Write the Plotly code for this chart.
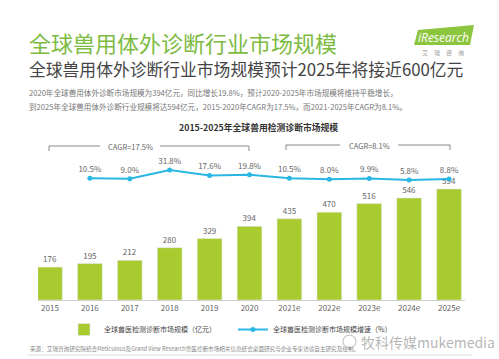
import plotly.graph_objects as go

years = ["2015", "2016", "2017", "2018", "2019", "2020", "2021e", "2022e", "2023e", "2024e", "2025e"]
market_size = [176, 195, 212, 280, 329, 394, 435, 470, 516, 546, 594]
growth_rate = [10.5, 9.0, 31.8, 17.6, 19.8, 10.5, 8.0, 9.9, 5.8, 8.8]
growth_years = years[1:]
bar_name = "全球兽医检测诊断市场规模（亿元）"
line_name = "全球兽医检测诊断市场规模增速（%）"

W, H = 499, 359
FONT = "Noto Sans CJK SC"
GREEN = "#a9cb2f"
BLUE = "#2ab7e3"
GRAY = "#666666"

def px(x):
    return x / W

def py(y):
    return 1 - y / H

fig = go.Figure()
fig.add_trace(go.Bar(
    x=years, y=market_size, name=bar_name, marker_color=GREEN, width=0.62,
    text=[str(v) for v in market_size], textposition="outside",
    textfont=dict(size=8, color=GRAY), cliponaxis=False,
))
fig.add_trace(go.Scatter(
    x=growth_years, y=growth_rate, name=line_name, yaxis="y2", mode="lines+markers+text",
    line=dict(color=BLUE, width=2), marker=dict(color=BLUE, size=5),
    text=[f"{v:.1f}%" for v in growth_rate], textposition="top center",
    textfont=dict(size=8, color=GRAY), cliponaxis=False,
))

fig.update_layout(
    width=W, height=H, margin=dict(l=0, r=0, t=0, b=0),
    paper_bgcolor="white", plot_bgcolor="white",
    font=dict(family=FONT, color=GRAY),
    xaxis=dict(domain=[px(38), px(465)], range=[-0.3, 10.4], showgrid=False,
               showline=True, linecolor="#d0d0d0", linewidth=1, ticks="",
               tickfont=dict(size=8, color=GRAY), anchor="y"),
    yaxis=dict(domain=[py(300), py(140)], range=[0, 856], visible=False),
    yaxis2=dict(domain=[py(300), py(140)], range=[-306, 110], overlaying="y", visible=False),
    showlegend=True,
    legend=dict(orientation="h", x=px(64), xanchor="left", y=py(315), yanchor="top",
                font=dict(size=7, color="#444444"), itemwidth=30, traceorder="normal",
                entrywidth=124, entrywidthmode="pixels",
                bgcolor="rgba(0,0,0,0)"),
)

shapes = []
def bracket(x0, x1, y, gap0, gap1):
    c = dict(color="#888", width=1)
    return [
        dict(type="line", xref="paper", yref="paper", x0=px(x0), x1=px(x0), y0=py(y), y1=py(y + 5), line=c),
        dict(type="line", xref="paper", yref="paper", x0=px(x1), x1=px(x1), y0=py(y), y1=py(y + 5), line=c),
        dict(type="line", xref="paper", yref="paper", x0=px(x0), x1=px(gap0), y0=py(y), y1=py(y), line=c),
        dict(type="line", xref="paper", yref="paper", x0=px(gap1), x1=px(x1), y0=py(y), y1=py(y), line=c),
    ]

shapes += bracket(49, 249, 146, 100, 160)
shapes += bracket(286, 450, 145, 340, 398)
# logo parallelogram
shapes.append(dict(type="path", xref="paper", yref="paper",
                   path=f"M {px(414)} {py(45)} L {px(470)} {py(45)} L {px(474)} {py(25)} L {px(418)} {py(30)} Z",
                   fillcolor="#8cc63e", line=dict(width=0)))
# watermark icon
shapes.append(dict(type="circle", xref="paper", yref="paper", x0=px(343), x1=px(356), y0=py(348), y1=py(335),
                   line=dict(color="rgba(170,170,170,0.8)", width=1)))
# footer line
shapes.append(dict(type="line", xref="paper", yref="paper", x0=px(28), x1=px(472), y0=py(355), y1=py(355),
                   line=dict(color="#dddddd", width=1)))
fig.update_layout(shapes=shapes)

ann = []
def text(x, y, s, size, color, anchor="left", bold=False, family=FONT):
    ann.append(dict(xref="paper", yref="paper", x=px(x), y=py(y), text=(f"<b>{s}</b>" if bold else s),
                    showarrow=False, xanchor=anchor, yanchor="middle",
                    font=dict(size=size, color=color, family=family)))

text(27, 42, "全球兽用体外诊断行业市场规模", 22, "#7dbb42")
text(27, 69, "全球兽用体外诊断行业市场规模预计2025年将接近600亿元", 16.8, "#444444")
text(27, 92, "2020年全球兽用体外诊断市场规模为394亿元，同比增长19.8%，预计2020-2025年市场规模将维持平稳增长，", 7.6, "#777777")
text(27, 106, "到2025年全球兽用体外诊断行业规模将达594亿元，2015-2020年CAGR为17.5%，而2021-2025年CAGR为8.1%。", 7.6, "#777777")
text(258, 128, "2015-2025年全球兽用检测诊断市场规模", 8.8, "#333333", anchor="center", bold=True)
text(130, 146, "CAGR=17.5%", 7.5, GRAY, anchor="center")
text(369, 145, "CAGR=8.1%", 7.5, GRAY, anchor="center")
text(443, 37, "<i>iResearch</i>", 12, "white", anchor="center", family="Open Sans")
text(443, 52, "艾　瑞　咨　询", 6, "#999999", anchor="center")
text(28, 349, "来源：艾瑞咨询研究院结合Meticulous及Grand View Research兽医诊断市场相关信息结合桌面研究与企业专家访谈自主研究及绘制。", 5.6, "#888888")
text(497, 342, "牧科传媒mukemedia", 14, "rgba(150,150,150,0.7)", anchor="right")
fig.update_layout(annotations=ann)

fig.write_html("out.html", config={"displayModeBar": False},
               post_script="document.body.style.margin='0';document.body.style.padding='0';")
